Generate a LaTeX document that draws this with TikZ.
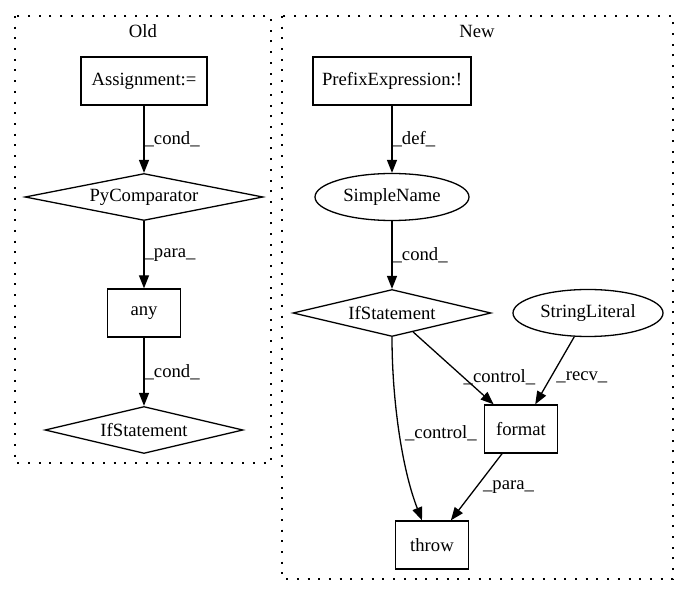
\documentclass[tikz,border=0pt]{standalone}
\usepackage{fontspec}
\setmainfont{Liberation Serif}
\usetikzlibrary{shapes.geometric,arrows.meta}
\begin{document}
\begin{tikzpicture}[x=1pt,y=-1pt,
  every node/.style={font=\fontsize{18.67}{22}\selectfont},
  box/.style={draw, line width=1.3pt, rectangle, inner sep=0pt, minimum height=48pt},
  dia/.style={draw, line width=1.3pt, diamond, aspect=4, inner sep=0pt, minimum height=47pt},
  ell/.style={draw, line width=1.3pt, ellipse, inner sep=0pt, minimum height=47pt},
  edge/.style={line width=1.3pt, -{Triangle[length=13pt,width=10pt]}},
  lab/.style={anchor=west, inner sep=0pt},
  cluster/.style={draw, line width=1.3pt, dash pattern=on 2pt off 8.7pt},
]
\useasboundingbox (0,0) rectangle (689,596);
% clusters
\draw[cluster] (15,16) rectangle (271,463);
\draw[cluster] (282,16) rectangle (673,579);
\node (oldlab) at (143,31) {Old};
\node (newlab) at (477,31) {New};
% Old nodes
\node[box, minimum width=126pt] (asg) at (144,81) {Assignment:=};
\node[dia, minimum width=238pt] (pyc) at (144,197) {PyComparator};
\node[box, minimum width=73pt] (any) at (144,313) {any};
\node[dia, minimum width=198pt] (ifo) at (144,430) {IfStatement};
% New nodes
\node[box, minimum width=158pt] (pre) at (392,81) {PrefixExpression:!};
\node[ell, minimum width=154pt] (sn) at (392,197) {SimpleName};
\node[dia, minimum width=198pt] (ifn) at (392,313) {IfStatement};
\node[ell, minimum width=150pt] (sl) at (588,313) {StringLiteral};
\node[box, minimum width=73pt] (fmt) at (521,429) {format};
\node[box, minimum width=73pt] (thr) at (432,545) {throw};
% Old edges
\draw[edge] (asg) -- node[lab, midway] {\_cond\_} (pyc);
\draw[edge] (pyc) -- node[lab, midway] {\_para\_} (any);
\draw[edge] (any) -- node[lab, midway] {\_cond\_} (ifo);
% New edges
\draw[edge] (pre) -- node[lab, midway] {\_def\_} (sn);
\draw[edge] (sn) -- node[lab, midway] {\_cond\_} (ifn);
\draw[edge] (ifn) -- node[lab, pos=0.62] {\_control\_} (fmt);
\draw[edge] (sl) -- node[lab, pos=0.6, xshift=5pt] {\_recv\_} (fmt);
\draw[edge] (fmt) -- node[lab, pos=0.5, xshift=6pt] {\_para\_} (thr);
\draw[edge] (ifn.south) .. controls +(0,63) and +(-20,-51) .. ([xshift=-10pt]thr.north)
  node[lab, pos=0.5, xshift=5pt] {\_control\_};
\end{tikzpicture}
\end{document}
